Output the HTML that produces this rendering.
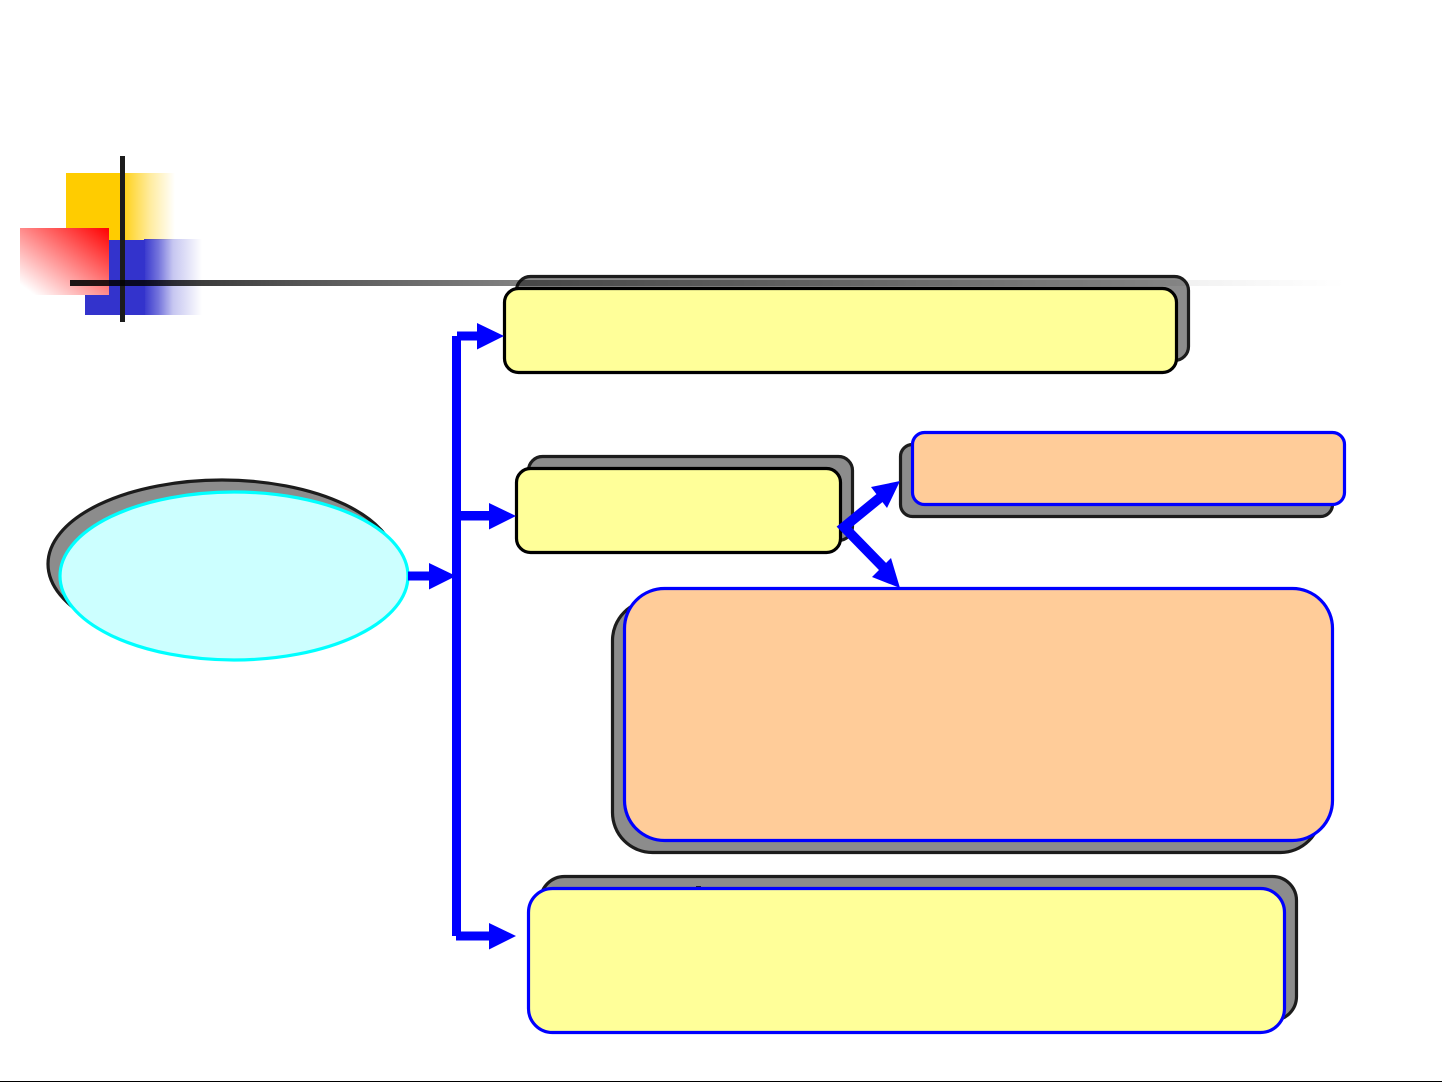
<!DOCTYPE html>
<html>
<head>
<meta charset="utf-8">
<style>
html,body{margin:0;padding:0;background:#fff;width:1442px;height:1082px;overflow:hidden}
svg{display:block}
</style>
</head>
<body>
<svg xmlns="http://www.w3.org/2000/svg" width="1442" height="1082" viewBox="0 0 1442 1082">
<defs>
<linearGradient id="gy" x1="0" x2="1" y1="0" y2="0"><stop offset="0" stop-color="#FFCC00" stop-opacity=".88"/><stop offset="0.5" stop-color="#FFCC00" stop-opacity=".38"/><stop offset="1" stop-color="#FFCC00" stop-opacity="0"/></linearGradient>
<linearGradient id="gb" x1="0" x2="1" y1="0" y2="0"><stop offset="0" stop-color="#3333CC" stop-opacity=".98"/><stop offset="0.25" stop-color="#3333CC" stop-opacity=".68"/><stop offset="0.5" stop-color="#3333CC" stop-opacity=".28"/><stop offset="1" stop-color="#3333CC" stop-opacity="0"/></linearGradient>
<linearGradient id="gr" x1="1" y1="0" x2="0" y2="1"><stop offset="0" stop-color="#FF0000"/><stop offset="0.92" stop-color="#FF0000" stop-opacity="0"/></linearGradient>
<linearGradient id="gl" gradientUnits="userSpaceOnUse" x1="70" x2="1345" y1="0" y2="0">
<stop offset="0" stop-color="#1c1c1c"/><stop offset="0.18" stop-color="#555"/><stop offset="0.35" stop-color="#808080"/><stop offset="0.88" stop-color="#f2f2f2"/><stop offset="1" stop-color="#fff"/>
</linearGradient>
</defs>
<rect width="1442" height="1082" fill="#fff"/>

<!-- corner decoration -->
<rect x="66" y="173" width="59" height="67" fill="#FFCC00"/>
<rect x="125" y="173" width="50" height="67" fill="url(#gy)"/>
<rect x="85" y="240" width="60" height="75" fill="#3333CC"/>
<rect x="144" y="239" width="58" height="76" fill="url(#gb)"/>
<rect x="20" y="228" width="89" height="67" fill="#fff"/>
<rect x="20" y="228" width="89" height="67" fill="url(#gr)"/>
<rect x="120" y="156" width="5" height="166" fill="#1c1c1c"/>

<!-- shadows -->
<g fill="#8c8c8c" stroke="#1c1c1c" stroke-width="3.2">
<rect x="516.5" y="276.5" width="672" height="84" rx="14"/>
<rect x="528.5" y="456.5" width="324" height="84" rx="14"/>
<rect x="900.5" y="444.5" width="432" height="72" rx="12"/>
<rect x="612.5" y="600.5" width="708" height="252" rx="40"/>
<rect x="540.5" y="876.5" width="756" height="144" rx="24"/>
<ellipse cx="222" cy="564" rx="174" ry="84"/>
</g>

<!-- horizontal rule -->
<rect x="70" y="280" width="1275" height="6" fill="url(#gl)" style="mix-blend-mode:multiply"/>

<!-- small tick above bottom box -->
<rect x="696" y="886" width="5" height="2" fill="#1c1c1c"/>

<!-- main shapes -->
<g stroke-width="3.2">
<rect x="504.5" y="288.5" width="672" height="84" rx="14" fill="#FFFF99" stroke="#000"/>
<rect x="516.5" y="468.5" width="324" height="84" rx="14" fill="#FFFF99" stroke="#000"/>
<rect x="912.5" y="432.5" width="432" height="72" rx="12" fill="#FFCC99" stroke="#0000FF"/>
<rect x="624.5" y="588.5" width="708" height="252" rx="40" fill="#FFCC99" stroke="#0000FF"/>
<rect x="528.5" y="888.5" width="756" height="144" rx="24" fill="#FFFF99" stroke="#0000FF"/>
<ellipse cx="234" cy="576" rx="174" ry="84" fill="#CCFFFF" stroke="#00FFFF"/>
</g>

<!-- connectors -->
<g fill="#0000FF">
<rect x="452" y="336" width="9" height="600"/>
<rect x="408" y="571.5" width="23" height="9"/>
<polygon points="429,563 456,576 429,589.5"/>
<rect x="457" y="331.5" width="22" height="9"/>
<polygon points="477,323 504,336 477,349.5"/>
<rect x="460" y="511" width="31" height="9.5"/>
<polygon points="489,503 516,516 489,529.5"/>
<rect x="456" y="931.5" width="35" height="9"/>
<polygon points="489,923 516,936 489,949.5"/>
<polygon points="900,481 871,487 887,508"/>
<polygon points="900,588 872,577 891,558"/>
</g>
<polyline points="882,496 844,527 884,568" fill="none" stroke="#0000FF" stroke-width="10" stroke-linejoin="miter"/>

<!-- bottom rule -->
<rect x="0" y="1081" width="1442" height="1" fill="#000"/>
</svg>
</body>
</html>
